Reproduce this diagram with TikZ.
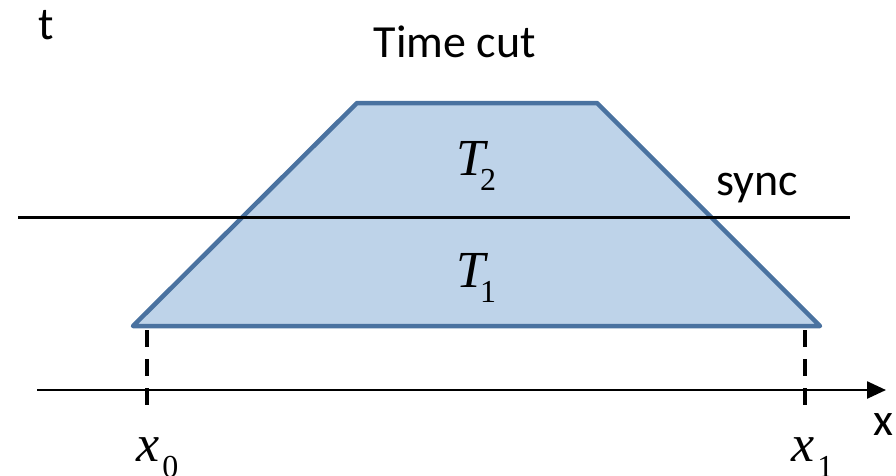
\documentclass[tikz,border=0pt]{standalone}
\usepackage{fontspec}
\setmainfont{Carlito}
\newfontfamily\serifm{Liberation Serif}
\usetikzlibrary{arrows.meta}
\definecolor{trapfill}{HTML}{BED3E9}
\definecolor{trapdraw}{HTML}{4A72A0}
\begin{document}
\begin{tikzpicture}[x=1pt,y=-1pt,
  lbl/.style={inner sep=0pt, anchor=base, font=\fontsize{46}{50}\selectfont},
  mlbl/.style={inner sep=0pt, anchor=base west, font=\serifm\fontsize{52}{56}\selectfont\itshape},
  dashline/.style={line width=4pt, dash pattern=on 17pt off 12pt},
]
\useasboundingbox (0,0) rectangle (896,475);
\coordinate (bl) at (133,326);
\coordinate (tl) at (357,103);
\coordinate (tr) at (597,103);
\coordinate (br) at (820,326);
\coordinate (s0) at (18,217);
\coordinate (s1) at (850,217);
\coordinate (a0) at (37,390);
\coordinate (a1) at (886,390);
\coordinate (d0a) at (147,330);
\coordinate (d0b) at (147,410);
\coordinate (d1a) at (805,330);
\coordinate (d1b) at (805,410);
\fill[trapfill] (bl) -- (tl) -- (tr) -- (br) -- cycle;
\draw[trapdraw, line width=4.5pt, line join=round] (bl) -- (tl) -- (tr) -- (br) -- cycle;
\draw[line width=3pt] (s0) -- (s1);
\draw[line width=2.5pt, -{Triangle[length=19pt,width=17pt]}] (a0) -- (a1);
\draw[dashline] (d0a) -- (d0b);
\draw[dashline] (d1a) -- (d1b);
\node[lbl] (t) at (46,39) {t};
\node[lbl] (timecut) at (455,57) {Time cut};
\node[lbl] (sync) at (757,195) {sync};
\node[lbl] (xl) at (883,435) {x};
\node[mlbl] (T2) at (456,175) {T\kern-5pt\raisebox{-15pt}{\upshape\fontsize{32}{32}\selectfont 2}};
\node[mlbl] (T1) at (456,287) {T\kern-5pt\raisebox{-15pt}{\upshape\fontsize{32}{32}\selectfont 1}};
\node[mlbl] (x0) at (136,461) {x\kern3pt\raisebox{-16pt}{\upshape\fontsize{32}{32}\selectfont 0}};
\node[mlbl] (x1) at (791,461) {x\kern3pt\raisebox{-16pt}{\upshape\fontsize{32}{32}\selectfont 1}};
\end{tikzpicture}
\end{document}
